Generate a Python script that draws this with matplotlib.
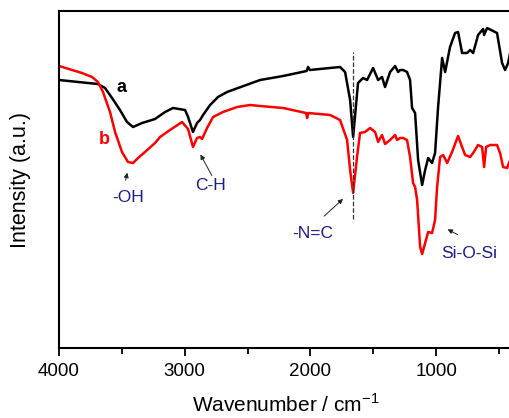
import matplotlib.pyplot as plt
from matplotlib.ticker import MultipleLocator

plt.rcParams['font.family'] = ['Liberation Sans', 'DejaVu Sans']

# sample a (black)
wn_a = [4000, 3769, 3690, 3634, 3578, 3515, 3459, 3411, 3339, 3236, 3156, 3093,
        2997, 2973, 2934, 2902, 2878, 2854, 2798, 2735, 2663, 2400, 2217, 2030,
        2018, 2005, 1764, 1724, 1684, 1660, 1621, 1581, 1549, 1501, 1461, 1430,
        1406, 1366, 1326, 1302, 1286, 1262, 1231, 1207, 1191, 1167, 1143, 1111,
        1087, 1063, 1032, 1008, 984, 952, 928, 889, 849, 825, 793, 753, 729,
        705, 666, 626, 618, 594, 515, 475, 451, 427, 411]
int_a = [270, 267, 266, 262, 252, 240, 228, 223, 227, 231, 238, 242,
         240, 233, 218, 227, 230, 235, 245, 253, 258, 270, 274, 279,
         283, 280, 283, 278, 250, 213, 267, 272, 270, 282, 270, 273,
         263, 278, 284, 278, 280, 280, 278, 270, 242, 237, 190, 165,
         180, 192, 187, 197, 243, 292, 278, 303, 317, 318, 297, 297, 300,
         297, 315, 321, 315, 322, 317, 287, 280, 287, 297]

# sample b (red)
wn_b = [4000, 3817, 3737, 3690, 3650, 3594, 3554, 3499, 3451, 3411, 3371, 3316,
        3236, 3196, 3117, 3021, 2973, 2934, 2902, 2878, 2862, 2822, 2774, 2695,
        2583, 2480, 2400, 2217, 2035, 2026, 2018, 1843, 1764, 1708, 1684, 1660,
        1629, 1605, 1565, 1525, 1485, 1461, 1430, 1406, 1366, 1326, 1310, 1286,
        1262, 1231, 1207, 1183, 1167, 1151, 1127, 1111, 1087, 1063, 1032, 1008,
        992, 968, 944, 912, 873, 825, 793, 769, 729, 705, 666, 634, 618, 602,
        570, 515, 491, 467, 435, 411]
int_b = [284, 277, 273, 268, 258, 238, 218, 198, 188, 187, 192, 198,
         207, 213, 220, 228, 221, 203, 212, 213, 211, 222, 233, 238,
         243, 245, 244, 242, 237, 232, 237, 235, 230, 210, 180, 157,
         193, 217, 218, 222, 218, 208, 215, 206, 210, 215, 210, 212,
         212, 210, 193, 167, 163, 150, 103, 96, 107, 118, 117, 130,
         163, 193, 195, 187, 198, 214, 203, 195, 193, 197, 205, 203, 183, 203,
         205, 205, 197, 183, 182, 190]

fig = plt.figure(figsize=(5.1, 4.18), dpi=100)
ax = fig.add_axes([59 / 510, 70 / 418, 452.5 / 510, 337 / 418])

ax.plot(wn_a, int_a, color='black', lw=1.8)
ax.plot(wn_b, int_b, color='#ff0000', lw=1.8)

ax.set_xlim(4000, 400)
ax.set_ylim(2, 339)

# dashed marker at the N=C band
ax.plot([1660, 1660], [131, 298], ls='--', color='#333333', lw=0.9)

ax.text(3500, 263, 'a', fontsize=13, fontweight='bold', color='black', ha='center', va='center')
ax.text(3640, 210, 'b', fontsize=13, fontweight='bold', color='#ff0000', ha='center', va='center')

navy = '#1c1c8a'
arr = dict(arrowstyle='-|>', color='#222222', lw=0.7, mutation_scale=7)
ax.annotate('', xy=(3451, 180), xytext=(3475, 167), arrowprops=arr)
ax.text(3451, 152, '-OH', fontsize=12.5, color=navy, ha='center', va='center')
ax.annotate('', xy=(2885, 198), xytext=(2774, 172), arrowprops=arr)
ax.text(2798, 164, 'C-H', fontsize=12.5, color=navy, ha='center', va='center')
ax.annotate('', xy=(1724, 153), xytext=(1907, 132), arrowprops=arr)
ax.text(1979, 117, '-N=C', fontsize=12.5, color=navy, ha='center', va='center')
ax.annotate('', xy=(928, 122), xytext=(809, 114), arrowprops=arr)
ax.text(735, 96, 'Si-O-Si', fontsize=12.5, color=navy, ha='center', va='center')

ax.xaxis.set_major_locator(MultipleLocator(1000))
ax.xaxis.set_minor_locator(MultipleLocator(500))
ax.tick_params(axis='x', which='major', direction='out', length=6, width=1.3, labelsize=13.5, pad=5)
ax.tick_params(axis='x', which='minor', direction='out', length=4, width=1.3)
ax.set_yticks([])
for s in ax.spines.values():
    s.set_linewidth(1.5)

ax.set_xlabel('Wavenumber / cm$^{\\mathregular{-1}}$', fontsize=15, labelpad=9)
ax.set_ylabel('Intensity (a.u.)', fontsize=15.5, labelpad=20)

fig.savefig('out.png', dpi=100)
